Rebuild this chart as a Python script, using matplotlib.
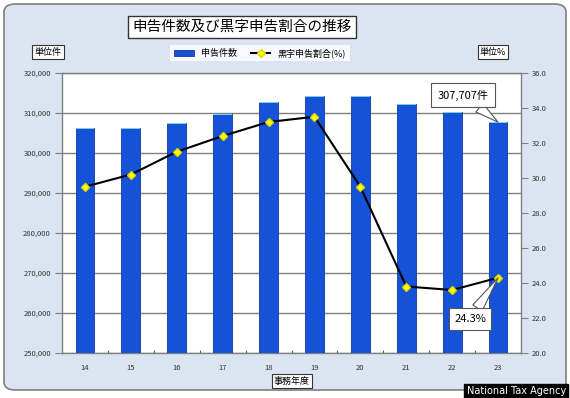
import matplotlib
matplotlib.use('Agg')
import matplotlib.pyplot as plt
from matplotlib.patches import FancyBboxPatch
from matplotlib.ticker import FuncFormatter, MultipleLocator, FixedLocator
import numpy as np

plt.rcParams['font.family'] = ['Noto Sans CJK JP', 'DejaVu Sans']

# data
years = ['14', '15', '16', '17', '18', '19', '20', '21', '22', '23']
filings = [306300, 306200, 307600, 309800, 312700, 314200, 314300, 312300, 310200, 307707]
surplus_ratio = [29.5, 30.2, 31.5, 32.4, 33.2, 33.5, 29.5, 23.8, 23.6, 24.3]

bg = '#dbe5f1'
bar_col = '#1652d8'

fig = plt.figure(figsize=(5.7, 3.98), dpi=100)
fig.patch.set_facecolor('white')

# rounded light-blue panel
panel = FancyBboxPatch((4 / 570, 8 / 398), 562 / 570, 386 / 398,
                       boxstyle='round,pad=0,rounding_size=0.02',
                       transform=fig.transFigure, facecolor=bg,
                       edgecolor='#7f7f7f', linewidth=1.2, zorder=-10)
fig.patches.append(panel)

ax = fig.add_axes([62 / 570, 1 - 353 / 398, 459 / 570, 280 / 398])
ax.set_facecolor('white')
x = np.arange(len(years))

ax.bar(x, filings, width=0.41, color=bar_col, edgecolor='#0e3aa8',
       linewidth=0.6, zorder=3, label='申告件数')
# light cap on each bar
ax.bar(x, [300] * len(x), bottom=[v - 300 for v in filings], width=0.41,
       color='#6fd6ee', linewidth=0, zorder=4)

ax.set_ylim(250000, 320000)
ax.set_xlim(-0.5, len(years) - 0.5)
ax.yaxis.set_major_locator(MultipleLocator(10000))
ax.yaxis.set_major_formatter(FuncFormatter(lambda v, p: f'{int(v):,}'))
ax.grid(axis='y', color='#808080', linewidth=1.0, zorder=1)
ax.set_axisbelow(True)
ax.tick_params(axis='y', labelsize=5.5, length=5, color='#808080',
               labelcolor='#333333', pad=3)

ax.xaxis.set_major_locator(FixedLocator(np.arange(0.5, len(years) - 0.5, 1)))
ax.xaxis.set_minor_locator(FixedLocator(x))
ax.xaxis.set_minor_formatter(FuncFormatter(lambda v, p: years[int(round(v))]))
ax.tick_params(axis='x', which='major', direction='in', length=2, labelbottom=False,
               color='#555555')
ax.tick_params(axis='x', which='minor', length=0, labelsize=5.5, pad=8,
               labelcolor='#333333')
for s in ax.spines.values():
    s.set_color('#808080')
    s.set_linewidth(1.0)

ax2 = ax.twinx()
ax2.plot(x, surplus_ratio, color='black', linewidth=1.5, marker='D',
         markersize=4, markerfacecolor='#ffff00', markeredgecolor='#d8d800',
         zorder=5, label='黒字申告割合(%)')
ax2.set_ylim(20, 36)
ax2.yaxis.set_major_locator(MultipleLocator(2))
ax2.yaxis.set_major_formatter(FuncFormatter(lambda v, p: f'{v:.1f}'))
ax2.tick_params(axis='y', labelsize=5.5, length=5, color='#808080',
                labelcolor='#333333', pad=3)
for s in ax2.spines.values():
    s.set_visible(False)

# callouts
wedge = dict(arrowstyle='wedge,tail_width=1.0', fc='white',
             ec='#555555', lw=0.8, shrinkA=0, shrinkB=0)
ax2.annotate(f'{filings[-1]:,}件', xy=(x[-1], 20 + (filings[-1] - 250000) / 70000 * 16),
             xycoords='data',
             xytext=(463 / 570, 1 - 95 / 398), textcoords='figure fraction',
             ha='center', va='center', fontsize=8,
             bbox=dict(boxstyle='square,pad=0.6', fc='white', ec='#555555', lw=0.8),
             arrowprops=wedge, zorder=10)
ax2.annotate(f'{surplus_ratio[-1]}%', xy=(x[-1], surplus_ratio[-1]), xycoords='data',
             xytext=(470 / 570, 1 - 319 / 398), textcoords='figure fraction',
             ha='center', va='center', fontsize=8,
             bbox=dict(boxstyle='square,pad=0.5', fc='white', ec='#555555', lw=0.8),
             arrowprops=wedge, zorder=10)

box = dict(boxstyle='square,pad=0.25', fc='white', ec='#333333', lw=0.8)
fig.text(242 / 570, 1 - 27 / 398, '申告件数及び黒字申告割合の推移', ha='center',
         va='center', fontsize=10.5, bbox=dict(boxstyle='square,pad=0.3', fc='white',
                                              ec='#333333', lw=1.0))
fig.text(48 / 570, 1 - 52 / 398, '単位件', ha='center', va='center', fontsize=6.5, bbox=box)
fig.text(493 / 570, 1 - 52 / 398, '単位%', ha='center', va='center', fontsize=6.5, bbox=box)
fig.text(292 / 570, 1 - 381 / 398, '事務年度', ha='center', va='center', fontsize=6.5, bbox=box)

h1, l1 = ax.get_legend_handles_labels()
h2, l2 = ax2.get_legend_handles_labels()
leg = fig.legend(h1 + h2, l1 + l2, loc='center', bbox_to_anchor=(260 / 570, 1 - 53 / 398),
                 ncol=2, fontsize=6.5, frameon=True, fancybox=False,
                 handlelength=2.2, columnspacing=1.5, borderpad=0.4)
leg.get_frame().set_edgecolor('white')
leg.get_frame().set_linewidth(0)

fig.text(566 / 570, 2 / 398, 'National Tax Agency', ha='right', va='bottom',
         fontsize=7, color='white', family='DejaVu Sans',
         bbox=dict(boxstyle='square,pad=0.25', fc='black', ec='black'))

fig.savefig('out.png', dpi=100, facecolor=fig.get_facecolor())
